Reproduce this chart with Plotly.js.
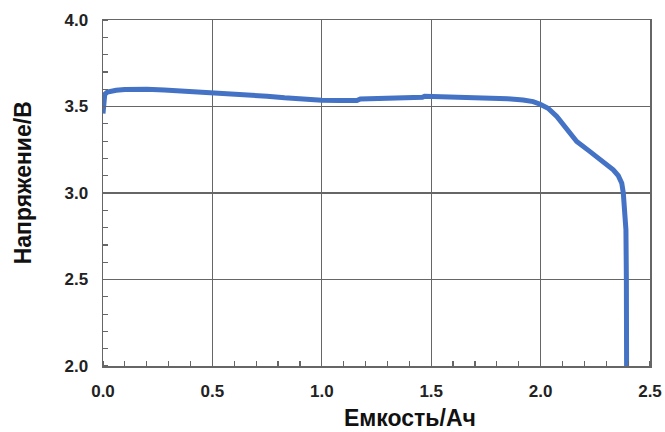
<!DOCTYPE html>
<html>
<head>
<meta charset="utf-8">
<script src="https://cdn.plot.ly/plotly-3.0.1.min.js"></script>
<style>html,body{margin:0;padding:0;background:#fff;}#chart{width:665px;height:432px;}</style>
</head>
<body>
<div id="chart"></div>
<script>
const capacity = [0.000,0.001,0.003,0.008,0.020,0.040,0.060,0.100,0.150,0.200,0.280,0.340,0.420,0.520,0.600,0.680,0.750,0.830,0.900,0.960,1.000,1.080,1.160,1.176,1.280,1.290,1.460,1.470,1.540,1.600,1.700,1.770,1.850,1.920,1.966,1.998,2.034,2.074,2.100,2.120,2.165,2.220,2.272,2.310,2.332,2.355,2.371,2.378,2.384,2.390,2.392,2.393,2.393];
const voltage  = [3.46,3.50,3.54,3.57,3.583,3.590,3.594,3.598,3.600,3.600,3.596,3.592,3.586,3.578,3.571,3.565,3.559,3.550,3.542,3.537,3.536,3.535,3.535,3.544,3.545,3.552,3.553,3.559,3.557,3.554,3.551,3.548,3.545,3.538,3.528,3.513,3.490,3.442,3.400,3.365,3.298,3.245,3.192,3.158,3.134,3.100,3.057,3.000,2.900,2.788,2.500,2.200,2.000];
const xTicks = [0.0,0.5,1.0,1.5,2.0,2.5];
const yTicks = [2.0,2.5,3.0,3.5,4.0];
const xTitle = 'Емкость/Ач';
const yTitle = 'Напряжение/В';

const tickFont = {family:'Liberation Sans, Arial, sans-serif', size:17, color:'#222', weight:'bold'};
const titleFont = {family:'Liberation Sans, Arial, sans-serif', size:23, color:'#111', weight:'bold'};

const axisCommon = {
  showline:true, mirror:true, linecolor:'#666', linewidth:1.5,
  showgrid:true, gridcolor:'#666', gridwidth:1.2,
  zeroline:false, ticks:'', tickfont:tickFont,
  tickmode:'array', fixedrange:true
};

const data = [{
  x: capacity, y: voltage, type:'scatter', mode:'lines',
  line:{color:'#4472C4', width:5}, hoverinfo:'skip'
}];

const layout = {
  width:665, height:432,
  margin:{l:102.5, r:15, t:20, b:65.5},
  paper_bgcolor:'#fff', plot_bgcolor:'#fff',
  showlegend:false,
  xaxis:{...axisCommon, range:[0,2.5], tickvals:xTicks, ticktext:xTicks.map(v=>v.toFixed(1)),
    ticklabelstandoff:9,
    minor:{dtick:0.1, tick0:0, ticks:'inside', ticklen:5, tickwidth:1.2, tickcolor:'#666', showgrid:false}},
  yaxis:{...axisCommon, range:[2,4], tickvals:yTicks, ticktext:yTicks.map(v=>v.toFixed(1)),
    ticklabelstandoff:10,
    minor:{dtick:0.1, tick0:0, ticks:'inside', ticklen:5, tickwidth:1.2, tickcolor:'#666', showgrid:false}},
  annotations:[
    {text:'<b>'+xTitle+'</b>', xref:'paper', yref:'paper', x:(410-102.5)/547.5, y:-(419-366.5)/346.5,
     xanchor:'center', yanchor:'middle', showarrow:false, font:titleFont},
    {text:'<b>'+yTitle+'</b>', xref:'paper', yref:'paper', x:-(102.5-22)/547.5, y:(366.5-183)/346.5,
     xanchor:'center', yanchor:'middle', showarrow:false, textangle:-90, font:titleFont}
  ]
};

Plotly.newPlot('chart', data, layout, {displayModeBar:false, staticPlot:true});
</script>
</body>
</html>
